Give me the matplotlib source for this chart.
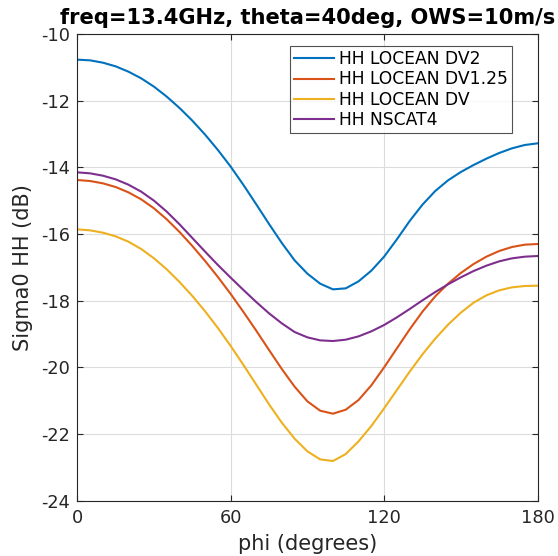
import matplotlib
matplotlib.use("Agg")
import matplotlib.pyplot as plt

phi = list(range(0, 181, 5))

hh_locean_dv2 = [-10.77, -10.79, -10.86, -10.97, -11.13, -11.33, -11.58, -11.88, -12.22,
                 -12.60, -13.02, -13.48, -13.98, -14.53, -15.11, -15.70, -16.27, -16.79,
                 -17.19, -17.49, -17.66, -17.63, -17.42, -17.10, -16.68, -16.16, -15.61,
                 -15.12, -14.71, -14.39, -14.14, -13.93, -13.74, -13.57, -13.43, -13.33, -13.28]

hh_locean_dv125 = [-14.38, -14.41, -14.48, -14.59, -14.75, -14.96, -15.23, -15.56, -15.94,
                   -16.36, -16.81, -17.29, -17.80, -18.34, -18.90, -19.48, -20.05, -20.58,
                   -21.02, -21.30, -21.39, -21.27, -20.98, -20.54, -20.00, -19.43, -18.86,
                   -18.33, -17.87, -17.49, -17.17, -16.90, -16.68, -16.51, -16.39, -16.32, -16.30]

hh_locean_dv = [-15.86, -15.89, -15.96, -16.07, -16.23, -16.45, -16.73, -17.06, -17.44,
                -17.86, -18.32, -18.82, -19.36, -19.93, -20.52, -21.11, -21.66, -22.14,
                -22.52, -22.76, -22.81, -22.60, -22.22, -21.76, -21.23, -20.68, -20.13,
                -19.61, -19.14, -18.72, -18.36, -18.06, -17.84, -17.69, -17.60, -17.56, -17.55]

hh_nscat4 = [-14.15, -14.18, -14.25, -14.36, -14.52, -14.73, -15.00, -15.33, -15.71,
             -16.12, -16.53, -16.93, -17.31, -17.68, -18.04, -18.38, -18.68, -18.94,
             -19.10, -19.19, -19.21, -19.17, -19.07, -18.92, -18.73, -18.50, -18.25,
             -17.99, -17.74, -17.51, -17.30, -17.11, -16.95, -16.82, -16.73, -16.68, -16.66]

series_labels = ["HH LOCEAN DV2", "HH LOCEAN DV1.25", "HH LOCEAN DV", "HH NSCAT4"]
series_colors = ["#0072BD", "#D95319", "#EDB120", "#7E2F8E"]

x_ticks = [0, 60, 120, 180]
y_ticks = [-24, -22, -20, -18, -16, -14, -12, -10]

title_text = "freq=13.4GHz, theta=40deg, OWS=10m/s"
x_label = "phi (degrees)"
y_label = "Sigma0 HH (dB)"

plt.rcParams["font.family"] = ["DejaVu Sans"]
plt.rcParams["axes.unicode_minus"] = False

W, H = 558, 556
fig = plt.figure(figsize=(W / 100, H / 100), dpi=100)
left, right, top, bottom = 77.3, 537.5, 34.0, 500.7
ax = fig.add_axes([left / W, 1 - bottom / H, (right - left) / W, (bottom - top) / H])

dark = "#262626"
for vals, lab, col in zip([hh_locean_dv2, hh_locean_dv125, hh_locean_dv, hh_nscat4],
                          series_labels, series_colors):
    ax.plot(phi, vals, color=col, lw=1.5, label=lab, solid_joinstyle="round")

ax.set_xlim(0, 180)
ax.set_ylim(-24, -10)
ax.set_xticks(x_ticks)
ax.set_yticks(y_ticks)
ax.set_xticklabels([str(v) for v in x_ticks])
ax.set_yticklabels([str(v) for v in y_ticks])
ax.grid(True, color="#dcdcdc", lw=0.8)
ax.set_axisbelow(True)
ax.tick_params(direction="in", length=4, width=0.8, colors=dark, labelcolor=dark,
               labelsize=12.8, top=True, right=True)
ax.tick_params(axis="x", pad=6)
ax.tick_params(axis="y", pad=5)
for s in ax.spines.values():
    s.set_color(dark)
    s.set_linewidth(0.8)

ax.set_title(title_text, fontsize=15.1, fontweight="bold", color="black", pad=7)
ax.set_xlabel(x_label, fontsize=15, color=dark, labelpad=5)
ax.set_ylabel(y_label, fontsize=15, color=dark, labelpad=6)

leg = ax.legend(loc="upper right", bbox_to_anchor=((512.3 - left) / (right - left),
                                                   (bottom - 46) / (bottom - top)),
                fontsize=12.3, frameon=True, fancybox=False, borderaxespad=0,
                handlelength=2.35, handletextpad=0.3, labelspacing=0.13, borderpad=0.25)
leg.get_frame().set_edgecolor(dark)
leg.get_frame().set_linewidth(0.8)
for t in leg.get_texts():
    t.set_color("black")

fig.savefig("out.png", dpi=100)
